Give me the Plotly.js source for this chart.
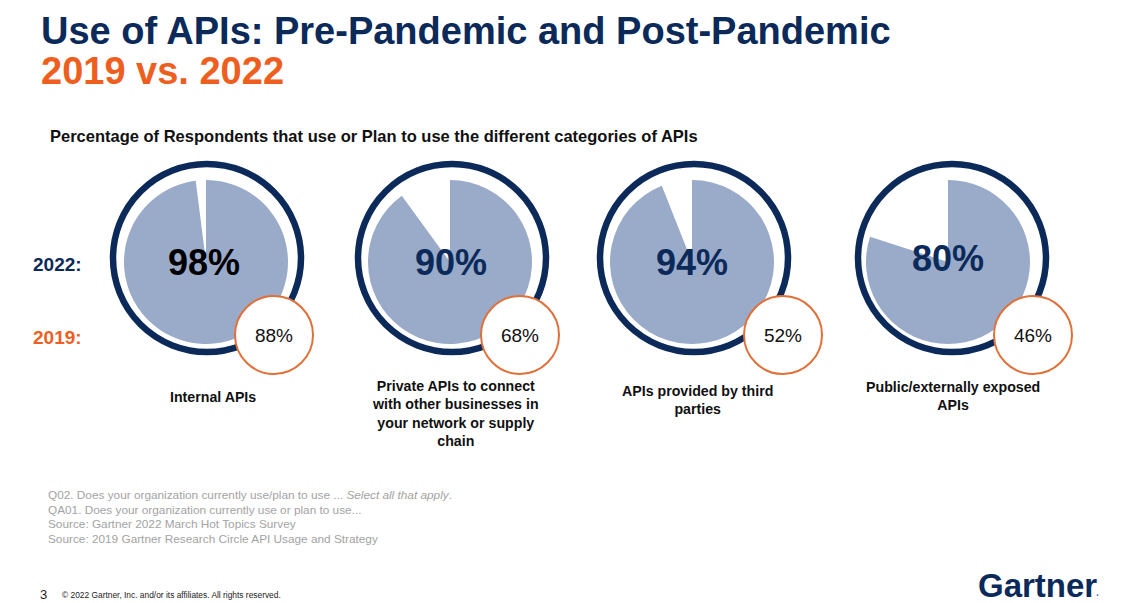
<!DOCTYPE html>
<html>
<head>
<meta charset="utf-8">
<script src="https://cdn.plot.ly/plotly-3.0.1.min.js"></script>
<style>html,body{margin:0;padding:0;background:#fff;}#chart{width:1125px;height:603px;}</style>
</head>
<body>
<div id="chart"></div>
<script>
// ---- data ----
const categories = [
  'Internal APIs',
  'Private APIs to connect<br>with other businesses in<br>your network or supply<br>chain',
  'APIs provided by third<br>parties',
  'Public/externally exposed<br>APIs'
];
const values2022 = [98, 90, 94, 80];
const values2019 = [88, 68, 52, 46];
const yearLabels = ['2022:', '2019:'];
const footnotes = [
  'Q02. Does your organization currently use/plan to use ... <i>Select all that apply</i>.',
  'QA01. Does your organization currently use or plan to use...',
  'Source: Gartner 2022 March Hot Topics Survey',
  'Source: 2019 Gartner Research Circle API Usage and Strategy'
];

// ---- geometry (pixels) ----
const W = 1125, H = 603;
const ringCx = [207, 452, 694, 952], ringCy = 258, ringR = 94, ringW = 6.5;
const pieCx = [206, 450, 692, 948], pieCy = 262, pieR = 82;
const smallCx = [274, 520, 783, 1033], smallCy = 335, smallR = 39;
const pctX = [204, 451, 692, 948], pctY = [262, 262, 262, 258];
const labelX = [213, 455, 697, 953], labelY = [397, 413, 400, 396];

const NAVY = '#0b2a5a', ORANGE = '#ee5f1f', LIGHT = '#9aabc9', RING_ORANGE = '#e0703a';
const FONT = 'Liberation Sans, Arial, sans-serif';

function dom(cx, cy, r) {
  return { x: [(cx - r) / W, (cx + r) / W], y: [1 - (cy + r) / H, 1 - (cy - r) / H] };
}

const traces = [];
values2022.forEach((v, i) => {
  traces.push({
    type: 'pie', values: [v, 100 - v], sort: false, direction: 'clockwise', rotation: 0,
    marker: { colors: [LIGHT, 'rgba(255,255,255,0)'], line: { width: 0 } },
    textinfo: 'none', hoverinfo: 'none', showlegend: false,
    domain: dom(pieCx[i], pieCy, pieR)
  });
});
values2019.forEach((v, i) => {
  traces.push({
    type: 'pie', values: [v], text: [v + '%'], sort: false,
    marker: { colors: ['#ffffff'], line: { color: RING_ORANGE, width: 2 } },
    textinfo: 'text', textposition: 'inside', insidetextorientation: 'horizontal',
    insidetextfont: { family: FONT, size: 19, color: '#111' },
    hoverinfo: 'none', showlegend: false,
    domain: dom(smallCx[i], smallCy, smallR)
  });
});

const shapes = ringCx.map(cx => ({
  type: 'circle', xref: 'x', yref: 'y', layer: 'below',
  x0: cx - ringR, x1: cx + ringR, y0: ringCy - ringR, y1: ringCy + ringR,
  line: { color: NAVY, width: ringW }, fillcolor: 'rgba(0,0,0,0)'
}));

const ann = [];
function txt(x, y, text, size, color, opts) {
  ann.push(Object.assign({ xref: 'x', yref: 'y', x: x, y: y, text: text, showarrow: false,
    xanchor: 'left', yanchor: 'middle', font: { family: FONT, size: size, color: color } }, opts || {}));
}
txt(39, 31, '<b>Use of APIs: Pre-Pandemic and Post-Pandemic</b>', 38, NAVY);
txt(39, 71, '<b>2019 vs. 2022</b>', 38, ORANGE);
txt(48, 136, '<b>Percentage of Respondents that use or Plan to use the different categories of APIs</b>', 16.5, '#111');
txt(31, 264, '<b>' + yearLabels[0] + '</b>', 19, NAVY);
txt(31, 337, '<b>' + yearLabels[1] + '</b>', 19, ORANGE);
values2022.forEach((v, i) => {
  txt(pctX[i], pctY[i], '<b>' + v + '%</b>', 36, i === 0 ? '#000' : NAVY, { xanchor: 'center' });
});
categories.forEach((c, i) => {
  txt(labelX[i], labelY[i], '<b>' + c + '</b>', 14.2, '#111', { xanchor: 'center', align: 'center' });
});
footnotes.forEach((f, i) => {
  txt(46, 495 + i * 14.7, f, 11.8, '#a3a3a3');
});
txt(38, 594, '3', 13, '#222');
txt(60, 595, '© 2022 Gartner, Inc. and/or its affiliates. All rights reserved.', 8.4, '#222');
txt(976, 585, '<b>Gartner</b>', 33, NAVY);
txt(1094, 592, '<b>.</b>', 10, '#3a7bd5');

const layout = {
  width: W, height: H, margin: { l: 0, r: 0, t: 0, b: 0 },
  paper_bgcolor: '#fff', plot_bgcolor: '#fff',
  xaxis: { range: [0, W], visible: false, fixedrange: true },
  yaxis: { range: [H, 0], visible: false, fixedrange: true },
  shapes: shapes, annotations: ann, showlegend: false
};
Plotly.newPlot('chart', traces, layout, { displayModeBar: false, staticPlot: true });
</script>
</body>
</html>
